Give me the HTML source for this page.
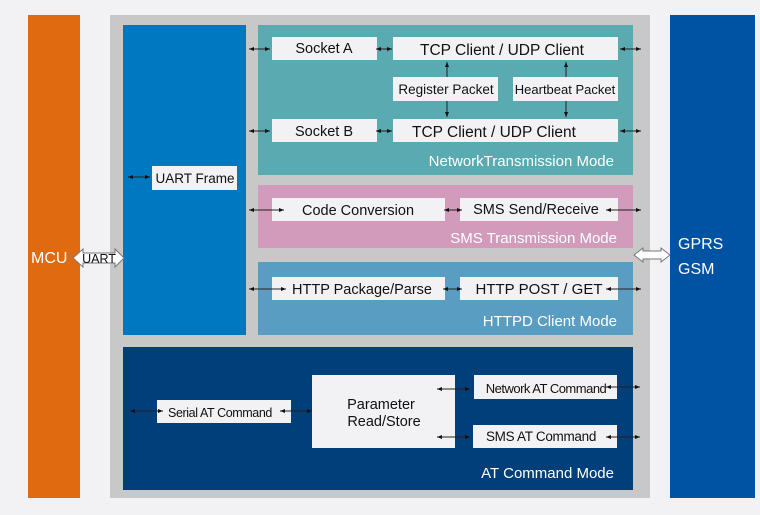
<!DOCTYPE html>
<html><head><meta charset="utf-8"><style>
html,body{margin:0;padding:0;background:#f2f2f4;}
svg{display:block;font-family:"Liberation Sans",Arial,sans-serif;}
</style></head><body>
<svg width="760" height="515" viewBox="0 0 760 515" xmlns="http://www.w3.org/2000/svg">
<defs>
<marker id="a" markerWidth="6" markerHeight="6" refX="5" refY="3" orient="auto-start-reverse" markerUnits="userSpaceOnUse"><path d="M0,1 L5,3 L0,5 z" fill="#111"/></marker>
</defs>
<rect x="0" y="0" width="760" height="515" fill="#f2f2f4"/>
<rect x="28" y="15" width="52" height="483" fill="#df6a10"/>
<text x="31" y="263" font-size="16" fill="#fff">MCU</text>
<rect x="110" y="15" width="540" height="483" fill="#c8c8c8"/>
<rect x="670" y="15" width="85" height="483" fill="#0052a2"/>
<text x="678" y="249" font-size="16" fill="#fff">GPRS</text>
<text x="678" y="274" font-size="16" fill="#fff">GSM</text>

<rect x="123" y="25" width="123" height="310" fill="#0078c1"/>
<rect x="258" y="25" width="375" height="150" fill="#5aaab2"/>
<rect x="258" y="185" width="375" height="63" fill="#d29bbb"/>
<rect x="258" y="262" width="375" height="73" fill="#5a9dc3"/>
<rect x="123" y="347" width="510" height="143" fill="#013f7b"/>

<g fill="#fff" font-size="15" text-anchor="end">
<text x="614" y="166">NetworkTransmission Mode</text>
<text x="617" y="243">SMS Transmission Mode</text>
<text x="617" y="326">HTTPD Client Mode</text>
<text x="614" y="478">AT Command Mode</text>
</g>

<g fill="#f2f2f4">
<rect x="272" y="37" width="105" height="23"/>
<rect x="393" y="37" width="225" height="23"/>
<rect x="393" y="77" width="105" height="24"/>
<rect x="513" y="77" width="105" height="24"/>
<rect x="272" y="119" width="105" height="23"/>
<rect x="393" y="119" width="225" height="23"/>
<rect x="152" y="166" width="85" height="24"/>
<rect x="272" y="198" width="173" height="23"/>
<rect x="460" y="198" width="158" height="23"/>
<rect x="272" y="277" width="173" height="23"/>
<rect x="460" y="277" width="158" height="23"/>
<rect x="157" y="400" width="134" height="23"/>
<rect x="312" y="375" width="143" height="73"/>
<rect x="474" y="375" width="143" height="24"/>
<rect x="473" y="425" width="144" height="23"/>
</g>
<g fill="#111" font-size="14.5" text-anchor="middle">
<text x="324" y="53">Socket A</text>
<text x="502" y="55" font-size="15.5">TCP Client / UDP Client</text>
<text x="446" y="94" font-size="13.5">Register Packet</text>
<text x="565" y="94" font-size="13">Heartbeat Packet</text>
<text x="324" y="136">Socket B</text>
<text x="494" y="137" font-size="15.5">TCP Client / UDP Client</text>
<text x="195" y="183" font-size="13.5">UART Frame</text>
<text x="358" y="215">Code Conversion</text>
<text x="536" y="214">SMS Send/Receive</text>
<text x="362" y="294">HTTP Package/Parse</text>
<text x="539" y="294" font-size="15">HTTP POST / GET</text>
<text x="220" y="417" font-size="12.5" letter-spacing="-0.4">Serial AT Command</text>
<text x="381" y="409">Parameter</text>
<text x="384" y="426">Read/Store</text>
<text x="546" y="393" font-size="13" letter-spacing="-0.5">Network AT Command</text>
<text x="541" y="441" font-size="13.5" letter-spacing="-0.3">SMS AT Command</text>
</g>

<g stroke="#222" stroke-width="1" marker-start="url(#a)" marker-end="url(#a)">
<line x1="249" y1="49" x2="270" y2="49"/>
<line x1="376" y1="49" x2="392" y2="49"/>
<line x1="620" y1="49" x2="641" y2="49"/>
<line x1="249" y1="131" x2="270" y2="131"/>
<line x1="376" y1="131" x2="392" y2="131"/>
<line x1="620" y1="131" x2="641" y2="131"/>
<line x1="128" y1="177" x2="150" y2="177"/>
<line x1="249" y1="210" x2="284" y2="210"/>
<line x1="444" y1="210" x2="462" y2="210"/>
<line x1="606" y1="210" x2="641" y2="210"/>
<line x1="249" y1="289" x2="286" y2="289"/>
<line x1="443" y1="289" x2="462" y2="289"/>
<line x1="606" y1="289" x2="641" y2="289"/>
<line x1="130" y1="411" x2="163" y2="411"/>
<line x1="280" y1="411" x2="312" y2="411"/>
<line x1="437" y1="389" x2="470" y2="389"/>
<line x1="606" y1="387" x2="640" y2="387"/>
<line x1="437" y1="437" x2="470" y2="437"/>
<line x1="606" y1="437" x2="640" y2="437"/>
</g>
<g stroke="#222" stroke-width="1" marker-end="url(#a)">
<line x1="447" y1="77" x2="447" y2="62"/>
<line x1="447" y1="101" x2="447" y2="117"/>
<line x1="566" y1="77" x2="566" y2="62"/>
<line x1="566" y1="101" x2="566" y2="117"/>
</g>

<path d="M73,258 L83,249 L83,253 L115,253 L115,249 L124,258 L115,267 L115,263 L83,263 L83,267 Z" fill="#fff" stroke="#777" stroke-width="1"/>
<text x="99" y="263" font-size="12.5" fill="#111" text-anchor="middle">UART</text>
<path d="M634,255 L643,248 L643,251 L661,251 L661,248 L670,255 L661,262 L661,259 L643,259 L643,262 Z" fill="#fff" stroke="#777" stroke-width="1"/>
</svg>
</body></html>
